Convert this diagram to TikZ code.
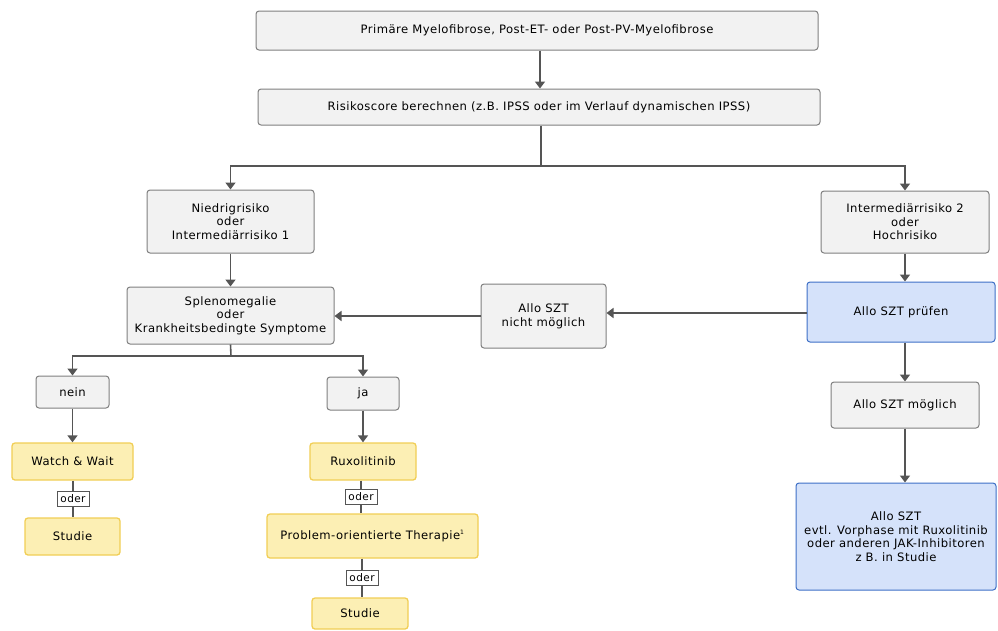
\documentclass[tikz,border=0pt]{standalone}
\usepackage{fontspec}
\setmainfont{DejaVu Sans}[LetterSpace=4]
\usetikzlibrary{arrows.meta}
\definecolor{gfill}{HTML}{F2F2F2}
\definecolor{gline}{HTML}{7F7F7F}
\definecolor{bfill}{HTML}{D5E2FA}
\definecolor{bline}{HTML}{3D6FC6}
\definecolor{yfill}{HTML}{FCEFB4}
\definecolor{yline}{HTML}{F1CE55}
\definecolor{conn}{HTML}{555555}
\tikzset{
  box/.style={draw=gline, fill=gfill, rounded corners=3pt, line width=1pt, align=center, inner sep=0pt, font=\fontsize{11.6}{13.6}\selectfont},
  bluebox/.style={box, draw=bline, fill=bfill},
  yelbox/.style={box, draw=yline, fill=yfill, line width=1.3pt},
  oderbox/.style={draw=conn, fill=white, line width=0.9pt, inner sep=1pt, minimum width=32pt, minimum height=15pt, font=\fontsize{10.5}{12}\selectfont},
  arr/.style={draw=conn, line width=1.6pt, -{Triangle[width=10pt,length=7pt]}},
  ln/.style={draw=conn, line width=1.6pt},
}
\begin{document}
\begin{tikzpicture}[x=1pt,y=-1pt]
\useasboundingbox (0,0) rectangle (998,630);
\node[box, minimum width=562, minimum height=39] (top) at (537,30.5) {Primäre Myelofibrose, Post-ET- oder Post-PV-Myelofibrose};
\node[box, minimum width=562, minimum height=36] (risk) at (539,107) {Risikoscore berechnen (z.B. IPSS oder im Verlauf dynamischen IPSS)};
\node[box, minimum width=167, minimum height=63] (low) at (230.5,221.5) {Niedrigrisiko\\oder\\Intermediärrisiko 1};
\node[box, minimum width=168, minimum height=62] (high) at (905,222) {Intermediärrisiko 2\\oder\\Hochrisiko};
\node[bluebox, minimum width=188, minimum height=60] (pruefen) at (901,312) {Allo SZT prüfen};
\node[box, minimum width=125, minimum height=64] (nicht) at (543.5,316) {Allo SZT\\nicht möglich};
\node[box, minimum width=207, minimum height=57] (spleno) at (230.5,315.5) {Splenomegalie\\oder\\Krankheitsbedingte Symptome};
\node[box, minimum width=73, minimum height=32] (nein) at (72.5,392) {nein};
\node[box, minimum width=72, minimum height=33] (ja) at (363,393.5) {ja};
\node[yelbox, minimum width=121, minimum height=37] (ww) at (72.5,461.5) {Watch \& Wait};
\node[yelbox, minimum width=95, minimum height=37] (studie1) at (72.5,536.5) {Studie};
\node[yelbox, minimum width=106, minimum height=37] (rux) at (363,461.5) {Ruxolitinib};
\node[yelbox, minimum width=211, minimum height=44] (prob) at (372.5,536) {Problem-orientierte Therapie\textsuperscript{\fontsize{6}{6}\selectfont 1}};
\node[yelbox, minimum width=96, minimum height=31] (studie2) at (360,613.5) {Studie};
\node[box, minimum width=148, minimum height=46] (moeglich) at (905,405) {Allo SZT möglich};
\node[bluebox, minimum width=200, minimum height=107] (final) at (896,536.5) {Allo SZT\\evtl. Vorphase mit Ruxolitinib\\oder anderen JAK-Inhibitoren\\z B. in Studie};

\draw[arr] (top.south -| 540,0) -- (risk.north -| 540,0);
\coordinate (split) at (541,166);
\draw[ln] (risk.south -| split) -- (split);
\draw[arr] (split) -| (low.north);
\draw[arr] (split) -| (high.north);
\draw[arr] (low.south) -- (spleno.north);
\draw[arr] (high.south) -- (high.south |- pruefen.north);
\draw[arr] (pruefen.west |- 0,313) -- (nicht.east |- 0,313);
\draw[arr] (nicht.west) -- (spleno.east |- nicht.west);
\coordinate (split2) at (231,356);
\draw[ln] (spleno.south) -- (split2);
\draw[arr] (split2) -| (nein.north);
\draw[arr] (split2) -| (ja.north);
\draw[arr] (nein.south) -- (ww.north);
\draw[arr] (ja.south) -- (rux.north);
\draw[arr] (pruefen.south -| moeglich.north) -- (moeglich.north);
\draw[arr] (moeglich.south) -- (moeglich.south |- final.north);
\draw[ln] (ww.south -| 73,0) -- node[oderbox] (o1) {oder} (studie1.north -| 73,0);
\draw[ln] (rux.south -| 361,0) -- node[oderbox] (o2) {oder} (prob.north -| 361,0);
\draw[ln] (prob.south -| 362,0) -- node[oderbox] (o3) {oder} (studie2.north -| 362,0);
\end{tikzpicture}
\end{document}
